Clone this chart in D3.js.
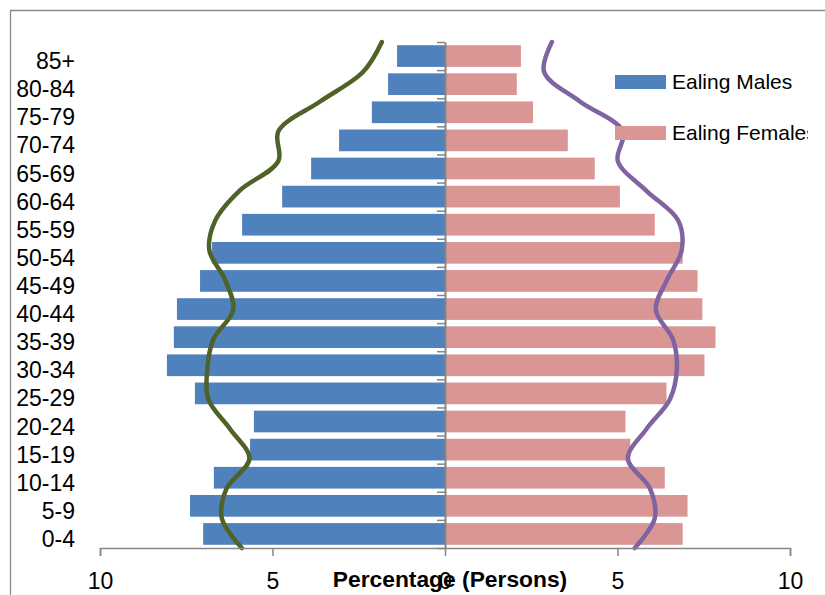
<!DOCTYPE html>
<html>
<head>
<meta charset="utf-8">
<script src="https://cdn.jsdelivr.net/npm/d3@7"></script>
<style>
  html, body { margin: 0; padding: 0; background: #fff; }
  svg { display: block; }
  text { font-family: "Liberation Sans", Arial, sans-serif; fill: #000; }
</style>
</head>
<body>
<svg id="chart" width="825" height="595"></svg>
<script>
// Age groups, listed from the oldest (top row) to the youngest (bottom row)
const ageGroups = ["85+", "80-84", "75-79", "70-74", "65-69", "60-64", "55-59", "50-54",
  "45-49", "40-44", "35-39", "30-34", "25-29", "20-24", "15-19", "10-14", "5-9", "0-4"];

// Ealing population share by age group (%), same order as ageGroups
const ealingMales = [1.39, 1.65, 2.12, 3.07, 3.88, 4.72, 5.88, 6.75,
  7.10, 7.77, 7.86, 8.06, 7.25, 5.54, 5.65, 6.70, 7.39, 7.01];
const ealingFemales = [2.20, 2.08, 2.55, 3.56, 4.34, 5.07, 6.08, 6.89,
  7.32, 7.46, 7.84, 7.52, 6.42, 5.23, 5.37, 6.37, 7.03, 6.89];

// Comparison profiles drawn as smooth lines, same order as ageGroups
const comparisonMales = [1.83, 2.37, 3.62, 4.83, 4.83, 5.96, 6.66, 6.83,
  6.37, 6.14, 6.72, 6.89, 6.86, 6.23, 5.67, 6.33, 6.47, 5.89];
const comparisonFemales = [3.10, 2.87, 3.91, 5.15, 5.01, 5.84, 6.76, 6.86,
  6.43, 6.11, 6.61, 6.72, 6.52, 5.84, 5.30, 5.94, 6.08, 5.50];

const xTickValues = [-10, -5, 0, 5, 10];
const legendLabels = ["Ealing Males", "Ealing Females"];

const colors = {
  males: "#4F81BD",
  females: "#D99694",
  lineMales: "#4F6228",
  lineFemales: "#8064A2",
  axis: "#868686",
  frame: "#8A8A8A"
};

const svg = d3.select("#chart");

// Outer chart frame (top and left edges)
svg.append("path")
  .attr("d", "M10.5,595 V10.5 H825")
  .attr("fill", "none")
  .attr("stroke", colors.frame)
  .attr("stroke-width", 1.3);

const plotTop = 42, plotBottom = 548;

const x = d3.scaleLinear().domain([-10, 10]).range([100, 790]);
const y = d3.scaleBand().domain(ageGroups).range([plotTop, plotBottom])
  .paddingInner(0.228).paddingOuter(0.114);
const yEdge = d3.scaleLinear().domain([0, ageGroups.length]).range([plotTop, plotBottom]);
const yLine = d3.scaleLinear().domain([0, ageGroups.length - 1]).range([plotTop, plotBottom]);

// Male bars extend to the left of zero, female bars to the right
svg.append("g").selectAll("rect")
  .data(ageGroups.map((g, i) => ({ g, v: ealingMales[i] })))
  .join("rect")
  .attr("x", d => x(-d.v))
  .attr("y", d => y(d.g))
  .attr("width", d => x(0) - x(-d.v))
  .attr("height", y.bandwidth())
  .attr("fill", colors.males);

svg.append("g").selectAll("rect")
  .data(ageGroups.map((g, i) => ({ g, v: ealingFemales[i] })))
  .join("rect")
  .attr("x", x(0))
  .attr("y", d => y(d.g))
  .attr("width", d => x(d.v) - x(0))
  .attr("height", y.bandwidth())
  .attr("fill", colors.females);

// Smooth comparison lines
const lineGen = sign => d3.line()
  .x(d => x(sign * d))
  .y((d, i) => yLine(i))
  .curve(d3.curveCatmullRom.alpha(0.5));

svg.append("path")
  .datum(comparisonMales)
  .attr("d", lineGen(-1))
  .attr("fill", "none")
  .attr("stroke", colors.lineMales)
  .attr("stroke-width", 4.5)
  .attr("stroke-linecap", "round");

svg.append("path")
  .datum(comparisonFemales)
  .attr("d", lineGen(1))
  .attr("fill", "none")
  .attr("stroke", colors.lineFemales)
  .attr("stroke-width", 4.5)
  .attr("stroke-linecap", "round");

// Vertical category axis at zero with ticks on the band edges
const yAxis = svg.append("g")
  .attr("transform", `translate(${x(0)},0)`)
  .call(d3.axisLeft(yEdge)
    .tickValues(d3.range(0, ageGroups.length + 1))
    .tickFormat("")
    .tickSize(8)
    .tickSizeOuter(0));
yAxis.select(".domain").attr("stroke", colors.axis).attr("stroke-width", 2);
yAxis.selectAll(".tick line").attr("stroke", colors.axis).attr("stroke-width", 1.5);

// Age group labels on the left
svg.append("g").selectAll("text")
  .data(ageGroups)
  .join("text")
  .attr("x", 75)
  .attr("y", d => y(d) + y.bandwidth() / 2 + 13)
  .attr("text-anchor", "end")
  .attr("font-size", 23)
  .text(d => d);

// Horizontal value axis
const xAxis = svg.append("g")
  .attr("transform", `translate(0,${plotBottom})`)
  .call(d3.axisBottom(x)
    .tickValues(xTickValues)
    .tickFormat(d => Math.abs(d))
    .tickSize(8)
    .tickSizeOuter(8)
    .tickPadding(17));
xAxis.select(".domain").attr("stroke", colors.axis).attr("stroke-width", 1.5);
xAxis.selectAll(".tick line").attr("stroke", colors.axis).attr("stroke-width", 1.5);
xAxis.selectAll(".tick text")
  .attr("font-size", 23)
  .attr("font-family", "Liberation Sans, Arial, sans-serif")
  .attr("fill", "#000");

// Axis title
svg.append("text")
  .attr("x", 450)
  .attr("y", 587)
  .attr("text-anchor", "middle")
  .attr("font-size", 22.8)
  .attr("font-weight", "bold")
  .text("Percentage (Persons)");

// Legend, clipped to its box
svg.append("clipPath").attr("id", "legendClip")
  .append("rect").attr("x", 600).attr("y", 50).attr("width", 208).attr("height", 110);

const legend = svg.append("g").attr("clip-path", "url(#legendClip)");
const legendItems = legend.selectAll("g")
  .data(legendLabels.map((label, i) => ({ label, color: i === 0 ? colors.males : colors.females, i })))
  .join("g")
  .attr("transform", d => `translate(615,${75 + d.i * 51})`);
legendItems.append("rect")
  .attr("width", 51)
  .attr("height", 14)
  .attr("fill", d => d.color);
legendItems.append("text")
  .attr("x", 57)
  .attr("y", 14)
  .attr("font-size", 21)
  .text(d => d.label);
</script>
</body>
</html>
